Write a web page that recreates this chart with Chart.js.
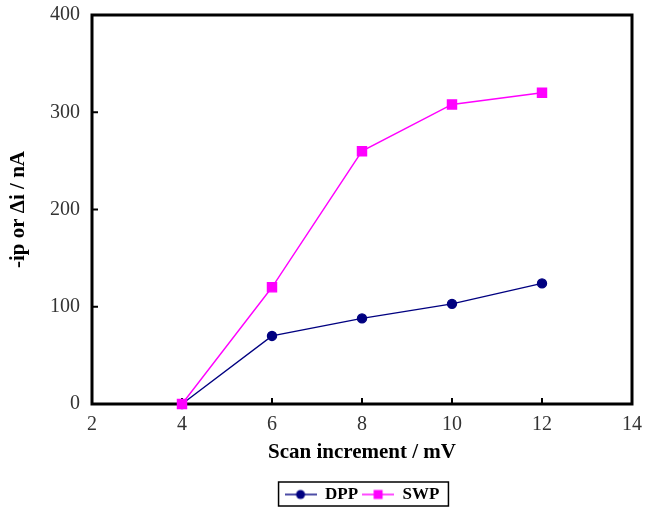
<!DOCTYPE html>
<html>
<head>
<meta charset="utf-8">
<script src="https://cdn.jsdelivr.net/npm/chart.js@4/dist/chart.umd.min.js"></script>
<style>
  html, body { margin: 0; padding: 0; background: #fff; }
  #wrap { width: 645px; height: 507px; }
</style>
</head>
<body>
<div id="wrap"><canvas id="c" width="645" height="507"></canvas></div>
<script>
// Scan increment (mV) and peak currents (nA)
const scanIncrement = [4, 6, 8, 10, 12];
const dppCurrent = [0, 70, 88, 103, 124];
const swpCurrent = [0, 120, 260, 308, 320];
const xTickValues = [2, 4, 6, 8, 10, 12, 14];
const yTickValues = [0, 100, 200, 300, 400];

const SERIF = '"Liberation Serif", "Times New Roman", serif';
const DPP_COLOR = '#000080';
const SWP_COLOR = '#FF00FF';

// Legend symbol: short line with the series marker in the middle
function legendSymbol(color, shape) {
  const cv = document.createElement('canvas');
  cv.width = 32; cv.height = 12;
  const g = cv.getContext('2d');
  g.strokeStyle = color; g.lineWidth = 1.4;
  g.beginPath(); g.moveTo(0, 6); g.lineTo(32, 6); g.stroke();
  g.fillStyle = color;
  if (shape === 'circle') {
    g.beginPath(); g.arc(16, 6, 4.5, 0, Math.PI * 2); g.fill();
  } else {
    g.fillRect(11.5, 1.5, 9, 9);
  }
  return cv;
}

const pts = vals => scanIncrement.map((x, i) => ({ x, y: vals[i] }));

// Frame around the plot and inward ticks on left/bottom (under the data),
// plus a box around the legend
const framePlugin = {
  id: 'frame',
  beforeDatasetsDraw(chart) {
    const { ctx, chartArea: a, scales } = chart;
    ctx.save();
    ctx.strokeStyle = '#000';
    ctx.lineWidth = 2;
    xTickValues.forEach(v => {
      const px = scales.x.getPixelForValue(v);
      ctx.beginPath(); ctx.moveTo(px, a.bottom); ctx.lineTo(px, a.bottom - 6); ctx.stroke();
    });
    yTickValues.forEach(v => {
      const py = scales.y.getPixelForValue(v);
      ctx.beginPath(); ctx.moveTo(a.left, py); ctx.lineTo(a.left + 6, py); ctx.stroke();
    });
    ctx.lineWidth = 3;
    ctx.strokeRect(a.left, a.top, a.right - a.left, a.bottom - a.top);
    ctx.restore();
  },
  afterDraw(chart) {
    const lg = chart.legend;
    if (!lg || !lg.legendHitBoxes || !lg.legendHitBoxes.length) return;
    const boxes = lg.legendHitBoxes;
    const last = boxes[boxes.length - 1];
    const l = boxes[0].left - 6;
    const r = last.left + last.width + 9;
    const t = boxes[0].top - 4;
    const b = boxes[0].top + boxes[0].height + 3;
    const { ctx } = chart;
    ctx.save();
    ctx.strokeStyle = '#000';
    ctx.lineWidth = 1.5;
    ctx.strokeRect(l, t, r - l, b - t);
    ctx.restore();
  }
};

new Chart(document.getElementById('c'), {
  type: 'line',
  data: {
    datasets: [
      {
        label: 'DPP',
        data: pts(dppCurrent),
        borderColor: DPP_COLOR,
        backgroundColor: DPP_COLOR,
        borderWidth: 1.4,
        pointStyle: 'circle',
        pointRadius: 4.5,
        pointHoverRadius: 4.5,
        tension: 0,
        clip: false,
        order: 1
      },
      {
        label: 'SWP',
        data: pts(swpCurrent),
        borderColor: SWP_COLOR,
        backgroundColor: SWP_COLOR,
        borderWidth: 1.4,
        pointStyle: 'rect',
        pointRadius: 6.4,
        pointHoverRadius: 6.4,
        tension: 0,
        clip: false,
        order: 0
      }
    ]
  },
  options: {
    responsive: false,
    animation: false,
    devicePixelRatio: 1,
    layout: { padding: { top: 15, right: 13, left: 0, bottom: -6 } },
    plugins: {
      tooltip: { enabled: false },
      legend: {
        position: 'bottom',
        fullSize: false,
        labels: {
          usePointStyle: true,
          pointStyleWidth: 32,
          padding: 4,
          color: '#000',
          font: { family: SERIF, size: 17, weight: 'bold' },
          generateLabels(chart) {
            return [
              { text: 'DPP', pointStyle: legendSymbol(DPP_COLOR, 'circle'), fillStyle: DPP_COLOR, strokeStyle: DPP_COLOR, lineWidth: 0, datasetIndex: 0, fontColor: '#000' },
              { text: 'SWP', pointStyle: legendSymbol(SWP_COLOR, 'rect'), fillStyle: SWP_COLOR, strokeStyle: SWP_COLOR, lineWidth: 0, datasetIndex: 1, fontColor: '#000' }
            ];
          }
        }
      }
    },
    scales: {
      x: {
        type: 'linear',
        min: 2, max: 14,
        afterBuildTicks(s) { s.ticks = xTickValues.map(v => ({ value: v })); },
        afterFit(s) { s.height = 78; s.paddingLeft = 0; s.paddingRight = 0; },
        grid: { display: false, drawTicks: false },
        border: { display: false },
        ticks: { color: '#333', padding: 9, font: { family: SERIF, size: 20 }, maxRotation: 0 },
        title: {
          display: true,
          text: 'Scan increment / mV',
          color: '#000',
          font: { family: SERIF, size: 21, weight: 'bold' },
          padding: { top: 4, bottom: 17 }
        }
      },
      y: {
        min: 0, max: 400,
        afterBuildTicks(s) { s.ticks = yTickValues.map(v => ({ value: v })); },
        afterFit(s) { s.width = 92; s.paddingTop = 0; s.paddingBottom = 0; },
        grid: { display: false, drawTicks: false },
        border: { display: false },
        ticks: { color: '#333', padding: 12, font: { family: SERIF, size: 20 } },
        title: {
          display: true,
          text: '-ip or Δi / nA',
          color: '#000',
          font: { family: SERIF, size: 21, weight: 'bold' },
          padding: { top: 6, bottom: 0 }
        }
      }
    }
  },
  plugins: [framePlugin]
});
</script>
</body>
</html>
